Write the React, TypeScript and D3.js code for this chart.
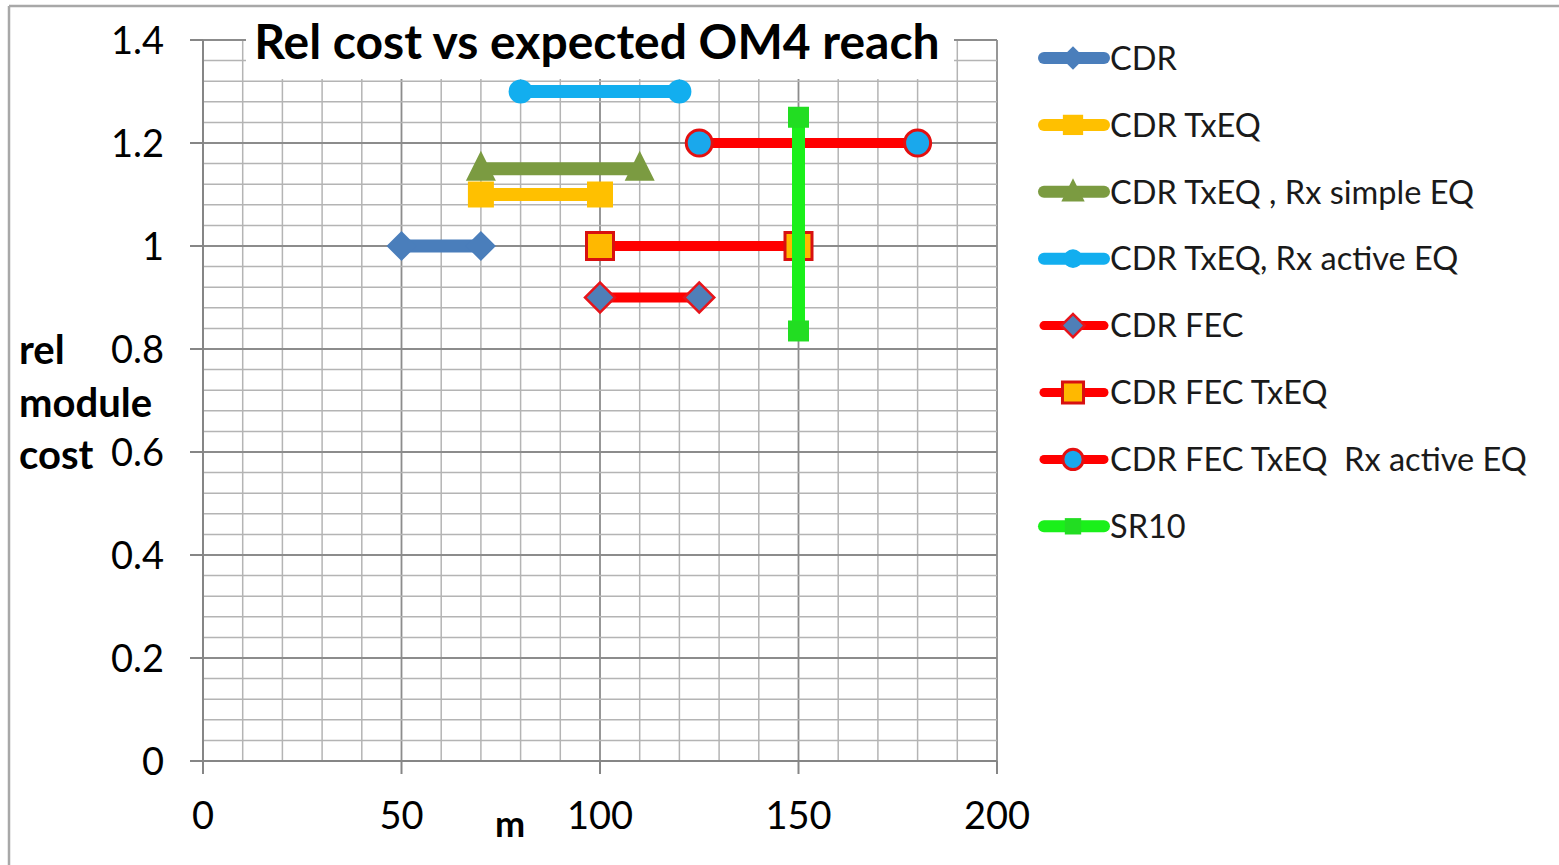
import React from "react";
import * as d3 from "d3";

const W = 1559;
const H = 865;

// ---- data ----
const xTicks = [0, 50, 100, 150, 200];
const yTicks = [0, 0.2, 0.4, 0.6, 0.8, 1, 1.2, 1.4];
const yTickLabels = ["0", "0.2", "0.4", "0.6", "0.8", "1", "1.2", "1.4"];

const cdrX = [50, 70];
const cdrY = [1, 1];
const cdrTxX = [70, 100];
const cdrTxY = [1.1, 1.1];
const cdrTxSimpleX = [70, 110];
const cdrTxSimpleY = [1.15, 1.15];
const cdrTxActiveX = [80, 120];
const cdrTxActiveY = [1.3, 1.3];
const fecX = [100, 125];
const fecY = [0.9, 0.9];
const fecTxX = [100, 150];
const fecTxY = [1, 1];
const fecTxActiveX = [125, 180];
const fecTxActiveY = [1.2, 1.2];
const sr10X = [150, 150];
const sr10Y = [1.25, 0.835];

const seriesNames = [
  "CDR",
  "CDR TxEQ",
  "CDR TxEQ , Rx simple EQ",
  "CDR TxEQ, Rx active EQ",
  "CDR FEC",
  "CDR FEC TxEQ",
  "CDR FEC TxEQ  Rx active EQ",
  "SR10",
];

type Marker = "diamond" | "square" | "triangle" | "circle";
interface Series {
  name: string;
  xs: number[];
  ys: number[];
  line: string;
  lineW: number;
  marker: Marker;
  size: number; // marker width in px
  fill: string;
  stroke: string;
  strokeW: number;
}

const series: Series[] = [
  { name: seriesNames[0], xs: cdrX, ys: cdrY, line: "#4A7EBB", lineW: 13, marker: "diamond", size: 30, fill: "#4A7EBB", stroke: "#4A7EBB", strokeW: 0 },
  { name: seriesNames[1], xs: cdrTxX, ys: cdrTxY, line: "#FFC000", lineW: 13, marker: "square", size: 26, fill: "#FFC000", stroke: "#FFC000", strokeW: 0 },
  { name: seriesNames[2], xs: cdrTxSimpleX, ys: cdrTxSimpleY, line: "#7B9B41", lineW: 13, marker: "triangle", size: 30, fill: "#7B9B41", stroke: "#7B9B41", strokeW: 0 },
  { name: seriesNames[3], xs: cdrTxActiveX, ys: cdrTxActiveY, line: "#12AEEF", lineW: 13, marker: "circle", size: 24, fill: "#12AEEF", stroke: "#12AEEF", strokeW: 0 },
  { name: seriesNames[4], xs: fecX, ys: fecY, line: "#FF0000", lineW: 10, marker: "diamond", size: 30, fill: "#4F7FB8", stroke: "#E8141A", strokeW: 2.5 },
  { name: seriesNames[5], xs: fecTxX, ys: fecTxY, line: "#FF0000", lineW: 10, marker: "square", size: 27, fill: "#FFB800", stroke: "#D81010", strokeW: 3 },
  { name: seriesNames[6], xs: fecTxActiveX, ys: fecTxActiveY, line: "#FF0000", lineW: 10, marker: "circle", size: 26, fill: "#1AA8EC", stroke: "#E41010", strokeW: 3 },
  { name: seriesNames[7], xs: sr10X, ys: sr10Y, line: "#1AF01A", lineW: 13, marker: "square", size: 21, fill: "#22DD22", stroke: "#22DD22", strokeW: 0 },
];

// ---- layout ----
const x = d3.scaleLinear().domain([0, 200]).range([203, 997]);
const y = d3.scaleLinear().domain([0, 1.4]).range([761, 40]);

const minorX = d3.range(0, 201, 10);
const minorY = d3.range(0, 35.5, 1).map((i) => i * 0.04);

const FONT = "Lato, 'Open Sans', sans-serif";

function markerPath(m: Marker, size: number): string {
  if (m === "diamond") {
    const side = size / Math.SQRT2;
    return d3.symbol(d3.symbolSquare, side * side)() as string;
  }
  if (m === "square") return d3.symbol(d3.symbolSquare, size * size)() as string;
  if (m === "circle") return d3.symbol(d3.symbolCircle, (Math.PI * size * size) / 4)() as string;
  const area = (Math.sqrt(3) / 4) * size * size;
  return d3.symbol(d3.symbolTriangle, area)() as string;
}

function MarkerShape({ s, cx, cy, scale = 1 }: { s: Series; cx: number; cy: number; scale?: number }) {
  const rot = s.marker === "diamond" ? 45 : 0;
  const dy = s.marker === "triangle" ? 2 : 0;
  const sy = s.marker === "triangle" ? 1.15 : 1;
  return (
    <path
      d={markerPath(s.marker, s.size * scale)}
      transform={`translate(${cx},${cy + dy}) rotate(${rot}) scale(1,${sy})`}
      fill={s.fill}
      stroke={s.strokeW ? s.stroke : "none"}
      strokeWidth={s.strokeW}
    />
  );
}

export default function App() {
  const lineGen = d3
    .line<[number, number]>()
    .x((d) => x(d[0]))
    .y((d) => y(d[1]));

  const legendY0 = 58;
  const legendStep = 66.9;

  return (
    <svg
      width={W}
      height={H}
      style={{ position: "absolute", left: 0, top: 0, background: "#fff" }}
      fontFamily={FONT}
    >
      <rect x={0} y={0} width={W} height={H} fill="#fff" />
      {/* frame */}
      <line x1={9} y1={6} x2={W} y2={6} stroke="#a8a8a8" strokeWidth={2.5} />
      <line x1={9} y1={6} x2={9} y2={H} stroke="#a8a8a8" strokeWidth={2.5} />

      {/* grid */}
      {minorX.map((v) => (
        <line key={"gx" + v} x1={x(v)} x2={x(v)} y1={y(0)} y2={y(1.4)} stroke={v % 50 === 0 ? "#8c8c8c" : "#b4b4b4"} strokeWidth={v % 50 === 0 ? 1.8 : 1.5} />
      ))}
      {minorY.map((v, i) => (
        <line key={"gy" + i} x1={x(0)} x2={x(200)} y1={y(v)} y2={y(v)} stroke={i % 5 === 0 ? "#8c8c8c" : "#b4b4b4"} strokeWidth={i % 5 === 0 ? 1.8 : 1.5} />
      ))}

      {/* axes */}
      <line x1={x(0)} x2={x(0)} y1={y(0)} y2={y(1.4)} stroke="#868686" strokeWidth={2} />
      <line x1={x(0)} x2={x(200)} y1={y(0)} y2={y(0)} stroke="#868686" strokeWidth={2} />
      {yTicks.map((v) => (
        <line key={"yt" + v} x1={x(0) - 13} x2={x(0)} y1={y(v)} y2={y(v)} stroke="#868686" strokeWidth={2} />
      ))}
      {xTicks.map((v) => (
        <line key={"xt" + v} x1={x(v)} x2={x(v)} y1={y(0)} y2={y(0) + 13} stroke="#868686" strokeWidth={2} />
      ))}

      {/* tick labels */}
      {yTicks.map((v, i) => (
        <text key={"yl" + v} x={164} y={y(v)} dy="0.36em" textAnchor="end" fontSize={38} fill="#000">
          {yTickLabels[i]}
        </text>
      ))}
      {xTicks.map((v) => (
        <text key={"xl" + v} x={x(v)} y={829} textAnchor="middle" fontSize={38} fill="#000">
          {v}
        </text>
      ))}

      {/* axis titles */}
      <text x={510} y={837} textAnchor="middle" fontSize={36} fontWeight="bold" fill="#000">m</text>
      <text x={19} y={364} fontSize={40} fontWeight="bold" fill="#000">rel</text>
      <text x={19} y={417} fontSize={40} fontWeight="bold" fill="#000">module</text>
      <text x={19} y={469} fontSize={40} fontWeight="bold" fill="#000">cost</text>

      {/* title box */}
      <rect x={246} y={22} width={708} height={57} fill="#fff" />
      <text x={597} y={59} textAnchor="middle" fontSize={48} fontWeight="bold" fill="#000">
        Rel cost vs expected OM4 reach
      </text>

      {/* series */}
      {series.map((s) => {
        const pts = s.xs.map((v, i) => [v, s.ys[i]] as [number, number]);
        return (
          <g key={s.name}>
            <path d={lineGen(pts) as string} fill="none" stroke={s.line} strokeWidth={s.lineW} />
            {pts.map((p, i) => (
              <MarkerShape key={i} s={s} cx={x(p[0])} cy={y(p[1])} />
            ))}
          </g>
        );
      })}

      {/* legend */}
      {series.map((s, i) => {
        const ly = legendY0 + i * legendStep;
        return (
          <g key={"lg" + s.name}>
            <line x1={1044} x2={1104} y1={ly} y2={ly} stroke={s.line} strokeWidth={s.lineW - 1} strokeLinecap="round" />
            <MarkerShape s={s} cx={1073} cy={ly} scale={0.78} />
            <text x={1110} y={ly} dy="0.36em" fontSize={32.5} fill="#1a1a1a" style={{ whiteSpace: "pre" }}>
              {s.name}
            </text>
          </g>
        );
      })}
    </svg>
  );
}
